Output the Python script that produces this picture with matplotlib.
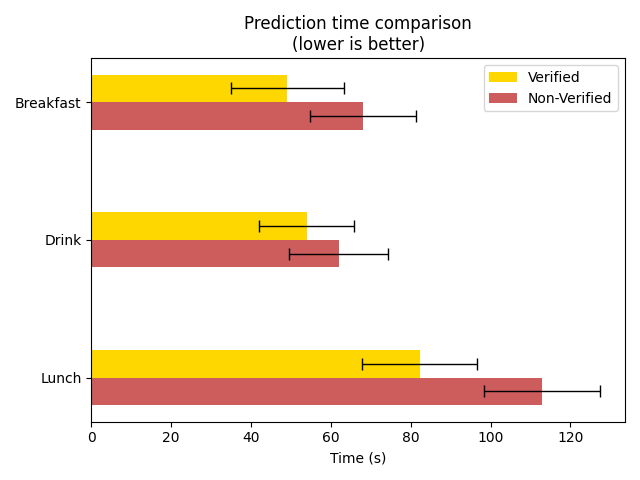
import matplotlib
matplotlib.use("Agg")
import matplotlib.pyplot as plt
import numpy as np

categories = ["Lunch", "Drink", "Breakfast"]
verified_mean = [82.3, 53.9, 49.1]
verified_err = [14.4, 12.0, 14.2]
nonverified_mean = [112.8, 62.0, 68.0]
nonverified_err = [14.5, 12.4, 13.2]

y = np.arange(len(categories))
h = 0.2

fig, ax = plt.subplots(figsize=(6.4, 4.8), dpi=100)
ax.barh(y + h / 2, verified_mean, h, xerr=verified_err, color="gold",
        capsize=4, label="Verified", error_kw=dict(elinewidth=1, capthick=1))
ax.barh(y - h / 2, nonverified_mean, h, xerr=nonverified_err, color="indianred",
        capsize=4, label="Non-Verified", error_kw=dict(elinewidth=1, capthick=1))
ax.set_yticks(y)
ax.set_yticklabels(categories)
ax.set_xlabel("Time (s)")
ax.set_title("Prediction time comparison\n(lower is better)")
ax.legend(loc="upper right")
fig.tight_layout()
fig.savefig("out.png")
